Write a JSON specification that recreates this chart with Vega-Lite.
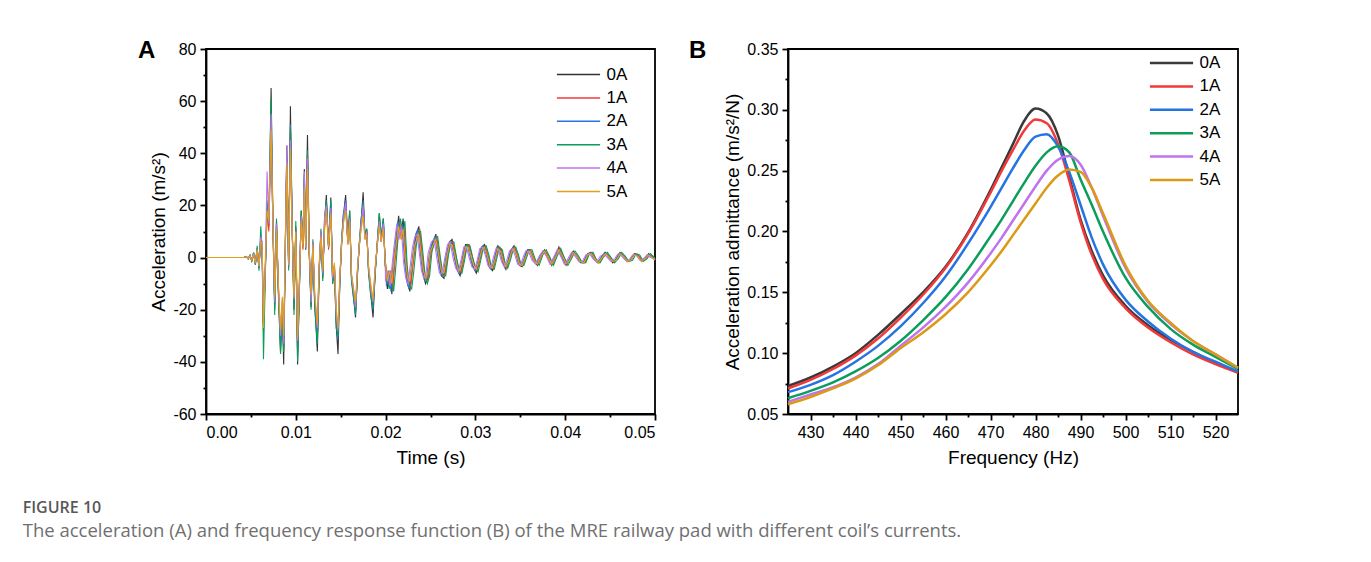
{
"$schema": "https://vega.github.io/schema/vega-lite/v6.json",
"background": "white",
"padding": {"left": 22, "top": 38, "right": 5, "bottom": 5},
"title": {"text": "FIGURE 10", "subtitle": "The acceleration (A) and frequency response function (B) of the MRE railway pad with different coil’s currents.", "orient": "bottom", "anchor": "start", "frame": "bounds", "offset": 32, "dx": -114.4, "font": "Open Sans", "fontSize": 16, "fontWeight": 600, "color": "#585858", "subtitleFont": "Open Sans", "subtitleFontSize": 18.5, "subtitleColor": "#707070", "subtitlePadding": 6.5},
"spacing": 29,
"resolve": {"scale": {"color": "independent"}},
"datasets": {
"a0": [{"t":0,"a":0},{"t":0.0042,"a":0},{"t":0.0045,"a":0.4},{"t":0.0047,"a":-0.5},{"t":0.0049,"a":0.8},{"t":0.0051,"a":-1.2},{"t":0.0053,"a":1.8},{"t":0.0055,"a":-2.5},{"t":0.0057,"a":3.5},{"t":0.0059,"a":-4},
{"t":0.0061,"a":8},{"t":0.00625,"a":4},{"t":0.0064,"a":-28},{"t":0.0066,"a":-6},{"t":0.0068,"a":20},{"t":0.007,"a":12},{"t":0.00725,"a":65},{"t":0.00745,"a":15},{"t":0.00765,"a":-20},{"t":0.00785,"a":14},
{"t":0.00805,"a":-12},{"t":0.0083,"a":-36},{"t":0.0085,"a":-20},{"t":0.00865,"a":-41},{"t":0.00885,"a":8},{"t":0.009,"a":43},{"t":0.0092,"a":-4},{"t":0.0094,"a":58},{"t":0.0096,"a":12},{"t":0.0098,"a":-20},
{"t":0.01,"a":12},{"t":0.0102,"a":-41},{"t":0.0104,"a":-12},{"t":0.0106,"a":18},{"t":0.0108,"a":4},{"t":0.01095,"a":34},{"t":0.0111,"a":4},{"t":0.0113,"a":47},{"t":0.0115,"a":2},{"t":0.0117,"a":-19},
{"t":0.0119,"a":6},{"t":0.0121,"a":-17},{"t":0.0124,"a":-36},{"t":0.0126,"a":-5},{"t":0.0128,"a":10},{"t":0.013,"a":-8},{"t":0.0132,"a":13},{"t":0.0134,"a":24},{"t":0.01365,"a":4},{"t":0.0139,"a":23},
{"t":0.0141,"a":-10},{"t":0.0143,"a":-4},{"t":0.0145,"a":-26},{"t":0.0147,"a":-37},{"t":0.0149,"a":-10},{"t":0.0151,"a":6},{"t":0.0153,"a":16},{"t":0.01555,"a":24},{"t":0.0158,"a":6},{"t":0.016,"a":18},
{"t":0.0162,"a":-8},{"t":0.0164,"a":-14},{"t":0.01665,"a":-23},{"t":0.01685,"a":-7},{"t":0.01705,"a":4},{"t":0.01725,"a":13},{"t":0.0175,"a":25},{"t":0.0177,"a":8},{"t":0.0179,"a":11},{"t":0.0181,"a":-5},
{"t":0.01835,"a":-14},{"t":0.0186,"a":-23},{"t":0.01885,"a":-5},{"t":0.01905,"a":4},{"t":0.0193,"a":17},{"t":0.0195,"a":7},{"t":0.01975,"a":15},{"t":0.01995,"a":-2},{"t":0.0202,"a":-12},{"t":0.02045,"a":-6},
{"t":0.0207,"a":-14},{"t":0.02095,"a":-2},{"t":0.0212,"a":7},{"t":0.02145,"a":16},{"t":0.0217,"a":8},{"t":0.02195,"a":15},{"t":0.0222,"a":-2},{"t":0.02245,"a":-10},{"t":0.0227,"a":-13},{"t":0.02295,"a":-4},
{"t":0.0232,"a":4},{"t":0.02345,"a":9},{"t":0.0237,"a":12},{"t":0.02395,"a":2},{"t":0.0242,"a":-6},{"t":0.02445,"a":-10},{"t":0.0247,"a":-8},{"t":0.02495,"a":2},{"t":0.0253,"a":6},{"t":0.0256,"a":9},
{"t":0.0259,"a":0},{"t":0.0262,"a":-7},{"t":0.0265,"a":-8},{"t":0.0268,"a":0},{"t":0.0271,"a":6},{"t":0.0274,"a":7},{"t":0.0277,"a":0},{"t":0.028,"a":-5},{"t":0.0283,"a":-7},{"t":0.0286,"a":-1},
{"t":0.0289,"a":5},{"t":0.0292,"a":5},{"t":0.0295,"a":0},{"t":0.0298,"a":-4},{"t":0.0301,"a":-6},{"t":0.0304,"a":-1},{"t":0.0307,"a":4},{"t":0.031,"a":5},{"t":0.0313,"a":1},{"t":0.0316,"a":-4},
{"t":0.0319,"a":-5},{"t":0.0322,"a":0},{"t":0.0325,"a":4.5},{"t":0.0328,"a":3},{"t":0.0331,"a":-2},{"t":0.0334,"a":-4.5},{"t":0.0337,"a":-1},{"t":0.034,"a":3},{"t":0.0343,"a":4.5},{"t":0.0346,"a":1},
{"t":0.0349,"a":-3},{"t":0.0352,"a":-3.5},{"t":0.0355,"a":0},{"t":0.0358,"a":3},{"t":0.0361,"a":3},{"t":0.0365,"a":-1},{"t":0.0369,"a":-3},{"t":0.0373,"a":1},{"t":0.0377,"a":3},{"t":0.0381,"a":0},
{"t":0.0385,"a":-3},{"t":0.0389,"a":0.5},{"t":0.0393,"a":4},{"t":0.0397,"a":0},{"t":0.0401,"a":-3},{"t":0.0405,"a":-0.5},{"t":0.0409,"a":2.5},{"t":0.0413,"a":0.5},{"t":0.0417,"a":-2},{"t":0.0421,"a":-2},
{"t":0.0425,"a":1.5},{"t":0.0429,"a":2},{"t":0.0433,"a":-1},{"t":0.0437,"a":-2},{"t":0.0441,"a":0.5},{"t":0.0445,"a":2},{"t":0.0449,"a":0},{"t":0.0453,"a":-2},{"t":0.0457,"a":-0.5},{"t":0.0461,"a":2},
{"t":0.0465,"a":0.5},{"t":0.0469,"a":-1.5},{"t":0.0473,"a":-1},{"t":0.0477,"a":1.5},{"t":0.0481,"a":1},{"t":0.0485,"a":-1.5},{"t":0.0489,"a":-0.5},{"t":0.0493,"a":1.5},{"t":0.0497,"a":0},{"t":0.05,"a":-1}],
"a1": [{"t":0,"a":0},{"t":0.0042,"a":0},{"t":0.0045,"a":0.3},{"t":0.0047,"a":-0.4},{"t":0.0049,"a":0.7},{"t":0.0051,"a":-1},{"t":0.0053,"a":1.5},{"t":0.0055,"a":-2.2},{"t":0.0057,"a":3},{"t":0.0059,"a":-3.5},
{"t":0.0061,"a":7},{"t":0.00625,"a":3},{"t":0.0064,"a":-25},{"t":0.0066,"a":-5},{"t":0.0068,"a":18},{"t":0.007,"a":10},{"t":0.00725,"a":50},{"t":0.00745,"a":14},{"t":0.00765,"a":-17},{"t":0.00785,"a":12},
{"t":0.00805,"a":-10},{"t":0.0083,"a":-32},{"t":0.0085,"a":-17},{"t":0.00865,"a":-36},{"t":0.00885,"a":6},{"t":0.009,"a":38},{"t":0.0092,"a":-3},{"t":0.0094,"a":50},{"t":0.0096,"a":10},{"t":0.0098,"a":-18},
{"t":0.01,"a":10},{"t":0.0102,"a":-36},{"t":0.0104,"a":-10},{"t":0.0106,"a":15},{"t":0.0108,"a":3},{"t":0.01095,"a":30},{"t":0.0111,"a":3},{"t":0.0113,"a":40},{"t":0.0115,"a":1},{"t":0.0117,"a":-17},
{"t":0.0119,"a":5},{"t":0.0121,"a":-15},{"t":0.0124,"a":-30},{"t":0.0126,"a":-4},{"t":0.0128,"a":9},{"t":0.013,"a":-6},{"t":0.0132,"a":11},{"t":0.0134,"a":21},{"t":0.01365,"a":3},{"t":0.0139,"a":20},
{"t":0.0141,"a":-8},{"t":0.0143,"a":-3},{"t":0.0145,"a":-22},{"t":0.0147,"a":-29},{"t":0.0149,"a":-8},{"t":0.0151,"a":5},{"t":0.0153,"a":14},{"t":0.01555,"a":21},{"t":0.0158,"a":5},{"t":0.016,"a":15},
{"t":0.0162,"a":-7},{"t":0.0164,"a":-12},{"t":0.01665,"a":-20},{"t":0.01685,"a":-6},{"t":0.01705,"a":3},{"t":0.01725,"a":12},{"t":0.0175,"a":21},{"t":0.0177,"a":7},{"t":0.0179,"a":10},{"t":0.0181,"a":-4},
{"t":0.01835,"a":-12},{"t":0.0186,"a":-19},{"t":0.01885,"a":-4},{"t":0.01905,"a":4},{"t":0.0193,"a":15},{"t":0.0195,"a":6},{"t":0.01975,"a":13},{"t":0.01995,"a":-1},{"t":0.0203,"a":-10},{"t":0.02055,"a":-5},
{"t":0.0208,"a":-12},{"t":0.02105,"a":-1},{"t":0.0213,"a":6},{"t":0.02155,"a":14},{"t":0.0218,"a":7},{"t":0.02205,"a":12},{"t":0.0223,"a":-1},{"t":0.02255,"a":-9},{"t":0.0228,"a":-11},{"t":0.02305,"a":-3},
{"t":0.0233,"a":4},{"t":0.02355,"a":8},{"t":0.0238,"a":11},{"t":0.02405,"a":2},{"t":0.0243,"a":-5},{"t":0.02455,"a":-9},{"t":0.0248,"a":-7},{"t":0.02505,"a":2},{"t":0.0254,"a":5},{"t":0.0257,"a":8},
{"t":0.026,"a":1},{"t":0.0263,"a":-6},{"t":0.0266,"a":-7},{"t":0.0269,"a":0},{"t":0.0272,"a":5},{"t":0.0275,"a":6},{"t":0.0278,"a":1},{"t":0.0281,"a":-4},{"t":0.0284,"a":-6},{"t":0.0287,"a":-1},
{"t":0.029,"a":4},{"t":0.0293,"a":5},{"t":0.0296,"a":1},{"t":0.0299,"a":-3},{"t":0.0302,"a":-5},{"t":0.0305,"a":-1},{"t":0.0308,"a":3.5},{"t":0.0311,"a":4.5},{"t":0.0314,"a":1},{"t":0.0317,"a":-3},
{"t":0.032,"a":-4.5},{"t":0.0323,"a":0},{"t":0.0326,"a":4},{"t":0.0329,"a":3},{"t":0.0332,"a":-1.5},{"t":0.0335,"a":-4},{"t":0.0338,"a":-1},{"t":0.0341,"a":2.5},{"t":0.0344,"a":4},{"t":0.0347,"a":1},
{"t":0.035,"a":-2.5},{"t":0.0353,"a":-3},{"t":0.0356,"a":0},{"t":0.0359,"a":2.5},{"t":0.0362,"a":2.5},{"t":0.0366,"a":-1},{"t":0.037,"a":-2.5},{"t":0.0374,"a":1},{"t":0.0378,"a":2.5},{"t":0.0382,"a":0.5},
{"t":0.0386,"a":-2.5},{"t":0.039,"a":0.5},{"t":0.0394,"a":3.5},{"t":0.0398,"a":0.5},{"t":0.0402,"a":-2.5},{"t":0.0406,"a":-0.5},{"t":0.041,"a":2},{"t":0.0414,"a":0.5},{"t":0.0418,"a":-1.5},{"t":0.0422,"a":-2},
{"t":0.0426,"a":1},{"t":0.043,"a":2},{"t":0.0434,"a":-0.5},{"t":0.0438,"a":-2},{"t":0.0442,"a":0},{"t":0.0446,"a":1.5},{"t":0.045,"a":0.5},{"t":0.0454,"a":-1.5},{"t":0.0458,"a":-0.5},{"t":0.0462,"a":1.5},
{"t":0.0466,"a":0.5},{"t":0.047,"a":-1.5},{"t":0.0474,"a":-0.5},{"t":0.0478,"a":1.5},{"t":0.0482,"a":0.5},{"t":0.0486,"a":-1},{"t":0.049,"a":-0.5},{"t":0.0494,"a":1},{"t":0.0498,"a":0.5},{"t":0.05,"a":-0.5}],
"a2": [{"t":0,"a":0},{"t":0.0042,"a":0},{"t":0.0045,"a":0.3},{"t":0.0047,"a":-0.5},{"t":0.0049,"a":0.7},{"t":0.0051,"a":-1.1},{"t":0.0053,"a":1.6},{"t":0.0055,"a":-2.3},{"t":0.0057,"a":3.2},{"t":0.0059,"a":-3.8},
{"t":0.0061,"a":7},{"t":0.00625,"a":2},{"t":0.0064,"a":-26},{"t":0.0066,"a":-4},{"t":0.0068,"a":17},{"t":0.007,"a":14},{"t":0.00725,"a":52},{"t":0.00745,"a":12},{"t":0.00765,"a":-18},{"t":0.00785,"a":13},
{"t":0.00805,"a":-11},{"t":0.0083,"a":-33},{"t":0.0085,"a":-18},{"t":0.00865,"a":-35},{"t":0.00885,"a":7},{"t":0.009,"a":38},{"t":0.0092,"a":-2},{"t":0.0094,"a":51},{"t":0.0096,"a":11},{"t":0.0098,"a":-17},
{"t":0.01,"a":11},{"t":0.0102,"a":-37},{"t":0.0104,"a":-11},{"t":0.0106,"a":16},{"t":0.0108,"a":5},{"t":0.01095,"a":31},{"t":0.0111,"a":3},{"t":0.0113,"a":36},{"t":0.0115,"a":3},{"t":0.0117,"a":-18},
{"t":0.0119,"a":5},{"t":0.0121,"a":-16},{"t":0.0124,"a":-31},{"t":0.0126,"a":-5},{"t":0.0128,"a":8},{"t":0.013,"a":-7},{"t":0.0132,"a":12},{"t":0.0134,"a":22},{"t":0.01365,"a":4},{"t":0.0139,"a":21},
{"t":0.0141,"a":-9},{"t":0.0143,"a":-3},{"t":0.0145,"a":-24},{"t":0.0147,"a":-31},{"t":0.0149,"a":-9},{"t":0.0151,"a":5},{"t":0.0153,"a":15},{"t":0.01555,"a":22},{"t":0.0158,"a":6},{"t":0.016,"a":16},
{"t":0.0162,"a":-7},{"t":0.0164,"a":-13},{"t":0.01665,"a":-22},{"t":0.01685,"a":-6},{"t":0.01705,"a":4},{"t":0.01725,"a":11},{"t":0.0175,"a":22},{"t":0.0177,"a":8},{"t":0.0179,"a":10},{"t":0.0181,"a":-4},
{"t":0.01835,"a":-13},{"t":0.0186,"a":-20},{"t":0.01885,"a":-5},{"t":0.01905,"a":4},{"t":0.0193,"a":13},{"t":0.0195,"a":7},{"t":0.01975,"a":14},{"t":0.01995,"a":-1},{"t":0.0201,"a":-11},{"t":0.02035,"a":-5},
{"t":0.0206,"a":-13},{"t":0.02085,"a":-1},{"t":0.0211,"a":6},{"t":0.02135,"a":14},{"t":0.0216,"a":8},{"t":0.02185,"a":13},{"t":0.0221,"a":-1},{"t":0.02235,"a":-9},{"t":0.0226,"a":-12},{"t":0.02285,"a":-4},
{"t":0.0231,"a":3},{"t":0.02335,"a":9},{"t":0.0236,"a":11},{"t":0.02385,"a":2},{"t":0.0241,"a":-5},{"t":0.02435,"a":-9},{"t":0.0246,"a":-7},{"t":0.02485,"a":1},{"t":0.0252,"a":6},{"t":0.0255,"a":8},
{"t":0.0258,"a":1},{"t":0.0261,"a":-6},{"t":0.0264,"a":-7},{"t":0.0267,"a":0},{"t":0.027,"a":5},{"t":0.0273,"a":6},{"t":0.0276,"a":1},{"t":0.0279,"a":-4},{"t":0.0282,"a":-6},{"t":0.0285,"a":-1},
{"t":0.0288,"a":4},{"t":0.0291,"a":5},{"t":0.0294,"a":0.5},{"t":0.0297,"a":-3.5},{"t":0.03,"a":-5},{"t":0.0303,"a":-1},{"t":0.0306,"a":3.5},{"t":0.0309,"a":4.5},{"t":0.0312,"a":1},{"t":0.0315,"a":-3.5},
{"t":0.0318,"a":-4.5},{"t":0.0321,"a":-0.5},{"t":0.0324,"a":4},{"t":0.0327,"a":3},{"t":0.033,"a":-1.5},{"t":0.0333,"a":-4},{"t":0.0336,"a":-1.5},{"t":0.0339,"a":2.5},{"t":0.0342,"a":4},{"t":0.0345,"a":1.5},
{"t":0.0348,"a":-2.5},{"t":0.0351,"a":-3},{"t":0.0354,"a":-0.5},{"t":0.0357,"a":2.5},{"t":0.036,"a":3},{"t":0.0364,"a":-0.5},{"t":0.0368,"a":-2.5},{"t":0.0372,"a":0.5},{"t":0.0376,"a":2.5},{"t":0.038,"a":0.5},
{"t":0.0384,"a":-2.5},{"t":0.0388,"a":0},{"t":0.0392,"a":3},{"t":0.0396,"a":0.5},{"t":0.04,"a":-2.5},{"t":0.0404,"a":-1},{"t":0.0408,"a":2},{"t":0.0412,"a":1},{"t":0.0416,"a":-1.5},{"t":0.042,"a":-2},
{"t":0.0424,"a":1},{"t":0.0428,"a":2},{"t":0.0432,"a":-0.5},{"t":0.0436,"a":-2},{"t":0.044,"a":0},{"t":0.0444,"a":2},{"t":0.0448,"a":0.5},{"t":0.0452,"a":-1.5},{"t":0.0456,"a":-1},{"t":0.046,"a":1.5},
{"t":0.0464,"a":1},{"t":0.0468,"a":-1},{"t":0.0472,"a":-1},{"t":0.0476,"a":1},{"t":0.048,"a":1},{"t":0.0484,"a":-1},{"t":0.0488,"a":-1},{"t":0.0492,"a":1},{"t":0.0496,"a":0.5},{"t":0.05,"a":-0.5}],
"a3": [{"t":0,"a":0},{"t":0.0042,"a":0},{"t":0.0045,"a":0.3},{"t":0.0047,"a":-0.5},{"t":0.0049,"a":0.9},{"t":0.0051,"a":-1.3},{"t":0.0053,"a":2},{"t":0.0055,"a":-2.8},{"t":0.0057,"a":4.5},{"t":0.0059,"a":-5},
{"t":0.0061,"a":12},{"t":0.00625,"a":3},{"t":0.0064,"a":-39},{"t":0.0066,"a":-8},{"t":0.0068,"a":22},{"t":0.007,"a":14},{"t":0.00725,"a":61},{"t":0.00745,"a":13},{"t":0.00765,"a":-22},{"t":0.00785,"a":15},
{"t":0.00805,"a":-13},{"t":0.0083,"a":-37},{"t":0.0085,"a":-22},{"t":0.00865,"a":-36},{"t":0.00885,"a":9},{"t":0.009,"a":40},{"t":0.0092,"a":-5},{"t":0.0094,"a":50},{"t":0.0096,"a":12},{"t":0.0098,"a":-22},
{"t":0.01,"a":14},{"t":0.0102,"a":-40},{"t":0.0104,"a":-13},{"t":0.0106,"a":18},{"t":0.0108,"a":6},{"t":0.01095,"a":32},{"t":0.0111,"a":4},{"t":0.0113,"a":41},{"t":0.0115,"a":2},{"t":0.0117,"a":-20},
{"t":0.0119,"a":7},{"t":0.0121,"a":-19},{"t":0.0124,"a":-33},{"t":0.0126,"a":-6},{"t":0.0128,"a":11},{"t":0.013,"a":-9},{"t":0.0132,"a":15},{"t":0.0134,"a":22},{"t":0.01365,"a":4},{"t":0.0139,"a":22},
{"t":0.0141,"a":-10},{"t":0.0143,"a":-4},{"t":0.0145,"a":-27},{"t":0.0147,"a":-30},{"t":0.0149,"a":-10},{"t":0.0151,"a":7},{"t":0.0153,"a":17},{"t":0.01555,"a":19},{"t":0.0158,"a":6},{"t":0.016,"a":18},
{"t":0.0162,"a":-9},{"t":0.0164,"a":-15},{"t":0.01665,"a":-21},{"t":0.01685,"a":-8},{"t":0.01705,"a":5},{"t":0.01725,"a":14},{"t":0.0175,"a":21},{"t":0.0177,"a":9},{"t":0.0179,"a":11},{"t":0.0181,"a":-6},
{"t":0.01835,"a":-15},{"t":0.0186,"a":-19},{"t":0.01885,"a":-6},{"t":0.01905,"a":5},{"t":0.0193,"a":17},{"t":0.0195,"a":8},{"t":0.01975,"a":15},{"t":0.01995,"a":-3},{"t":0.0204,"a":-12},{"t":0.02065,"a":-7},
{"t":0.0209,"a":-13},{"t":0.02115,"a":-3},{"t":0.0214,"a":8},{"t":0.02165,"a":15},{"t":0.0219,"a":9},{"t":0.02215,"a":14},{"t":0.0224,"a":-3},{"t":0.02265,"a":-11},{"t":0.0229,"a":-12},{"t":0.02315,"a":-5},
{"t":0.0234,"a":4},{"t":0.02365,"a":10},{"t":0.0239,"a":10},{"t":0.02415,"a":2},{"t":0.0244,"a":-7},{"t":0.02465,"a":-10},{"t":0.0249,"a":-7},{"t":0.02515,"a":2},{"t":0.0255,"a":7},{"t":0.0258,"a":8},
{"t":0.0261,"a":0},{"t":0.0264,"a":-7},{"t":0.0267,"a":-7},{"t":0.027,"a":1},{"t":0.0273,"a":6},{"t":0.0276,"a":6},{"t":0.0279,"a":0},{"t":0.0282,"a":-5},{"t":0.0285,"a":-6},{"t":0.0288,"a":-1},
{"t":0.0291,"a":5},{"t":0.0294,"a":4.5},{"t":0.0297,"a":0},{"t":0.03,"a":-4},{"t":0.0303,"a":-5.5},{"t":0.0306,"a":-1},{"t":0.0309,"a":4},{"t":0.0312,"a":4.5},{"t":0.0315,"a":1},{"t":0.0318,"a":-4},
{"t":0.0321,"a":-4.5},{"t":0.0324,"a":0},{"t":0.0327,"a":4},{"t":0.033,"a":3},{"t":0.0333,"a":-2},{"t":0.0336,"a":-4},{"t":0.0339,"a":-1},{"t":0.0342,"a":3},{"t":0.0345,"a":4},{"t":0.0348,"a":1},
{"t":0.0351,"a":-3},{"t":0.0354,"a":-3},{"t":0.0357,"a":0},{"t":0.036,"a":3},{"t":0.0363,"a":3},{"t":0.0367,"a":-1},{"t":0.0371,"a":-3},{"t":0.0375,"a":1},{"t":0.0379,"a":3},{"t":0.0383,"a":0},
{"t":0.0387,"a":-3},{"t":0.0391,"a":0.5},{"t":0.0395,"a":3.5},{"t":0.0399,"a":0},{"t":0.0403,"a":-3},{"t":0.0407,"a":-0.5},{"t":0.0411,"a":2.5},{"t":0.0415,"a":0.5},{"t":0.0419,"a":-2},{"t":0.0423,"a":-2},
{"t":0.0427,"a":1.5},{"t":0.0431,"a":2},{"t":0.0435,"a":-1},{"t":0.0439,"a":-2},{"t":0.0443,"a":0.5},{"t":0.0447,"a":2},{"t":0.0451,"a":0},{"t":0.0455,"a":-2},{"t":0.0459,"a":-0.5},{"t":0.0463,"a":2},
{"t":0.0467,"a":0.5},{"t":0.0471,"a":-1.5},{"t":0.0475,"a":-1},{"t":0.0479,"a":1.5},{"t":0.0483,"a":1},{"t":0.0487,"a":-1.5},{"t":0.0491,"a":-0.5},{"t":0.0495,"a":1.5},{"t":0.0499,"a":0},{"t":0.05,"a":-1}],
"a4": [{"t":0,"a":0},{"t":0.0042,"a":0},{"t":0.0045,"a":0.3},{"t":0.0047,"a":-0.4},{"t":0.0049,"a":0.7},{"t":0.0051,"a":-1},{"t":0.0053,"a":1.6},{"t":0.0055,"a":-2.2},{"t":0.0057,"a":3.2},{"t":0.0059,"a":-3.5},
{"t":0.0061,"a":8},{"t":0.00625,"a":6},{"t":0.0064,"a":-24},{"t":0.0066,"a":-3},{"t":0.0068,"a":33},{"t":0.007,"a":13},{"t":0.00725,"a":55},{"t":0.00745,"a":12},{"t":0.00765,"a":-17},{"t":0.00785,"a":13},
{"t":0.00805,"a":-10},{"t":0.0083,"a":-30},{"t":0.0085,"a":-16},{"t":0.00865,"a":-33},{"t":0.00885,"a":9},{"t":0.009,"a":43},{"t":0.0092,"a":-3},{"t":0.0094,"a":45},{"t":0.0096,"a":10},{"t":0.0098,"a":-16},
{"t":0.01,"a":10},{"t":0.0102,"a":-32},{"t":0.0104,"a":-10},{"t":0.0106,"a":16},{"t":0.0108,"a":5},{"t":0.01095,"a":33},{"t":0.0111,"a":4},{"t":0.0113,"a":38},{"t":0.0115,"a":2},{"t":0.0117,"a":-17},
{"t":0.0119,"a":6},{"t":0.0121,"a":-14},{"t":0.0124,"a":-27},{"t":0.0126,"a":-3},{"t":0.0128,"a":10},{"t":0.013,"a":-6},{"t":0.0132,"a":15},{"t":0.0134,"a":20},{"t":0.01365,"a":5},{"t":0.0139,"a":19},
{"t":0.0141,"a":-8},{"t":0.0143,"a":-3},{"t":0.0145,"a":-22},{"t":0.0147,"a":-28},{"t":0.0149,"a":-8},{"t":0.0151,"a":6},{"t":0.0153,"a":15},{"t":0.01555,"a":21},{"t":0.0158,"a":6},{"t":0.016,"a":15},
{"t":0.0162,"a":-7},{"t":0.0164,"a":-12},{"t":0.01665,"a":-19},{"t":0.01685,"a":-6},{"t":0.01705,"a":4},{"t":0.01725,"a":12},{"t":0.0175,"a":20},{"t":0.0177,"a":7},{"t":0.0179,"a":10},{"t":0.0181,"a":-4},
{"t":0.01835,"a":-12},{"t":0.0186,"a":-17},{"t":0.01885,"a":-4},{"t":0.01905,"a":4},{"t":0.0193,"a":14},{"t":0.0195,"a":6},{"t":0.01975,"a":13},{"t":0.01995,"a":-2},{"t":0.02,"a":-9},{"t":0.02025,"a":-5},
{"t":0.0205,"a":-11},{"t":0.02075,"a":-2},{"t":0.021,"a":6},{"t":0.02125,"a":13},{"t":0.0215,"a":7},{"t":0.02175,"a":12},{"t":0.022,"a":-2},{"t":0.02225,"a":-8},{"t":0.0225,"a":-10},{"t":0.02275,"a":-3},
{"t":0.023,"a":4},{"t":0.02325,"a":8},{"t":0.0235,"a":9},{"t":0.02375,"a":2},{"t":0.024,"a":-5},{"t":0.02425,"a":-8},{"t":0.0245,"a":-6},{"t":0.02475,"a":2},{"t":0.0251,"a":6},{"t":0.0254,"a":7},
{"t":0.0257,"a":0},{"t":0.026,"a":-6},{"t":0.0263,"a":-6},{"t":0.0266,"a":0},{"t":0.0269,"a":5},{"t":0.0272,"a":6},{"t":0.0275,"a":0},{"t":0.0278,"a":-4},{"t":0.0281,"a":-5.5},{"t":0.0284,"a":-1},
{"t":0.0287,"a":4},{"t":0.029,"a":4},{"t":0.0293,"a":0},{"t":0.0296,"a":-3.5},{"t":0.0299,"a":-4.5},{"t":0.0302,"a":-1},{"t":0.0305,"a":3.5},{"t":0.0308,"a":4},{"t":0.0311,"a":1},{"t":0.0314,"a":-3},
{"t":0.0317,"a":-4},{"t":0.032,"a":0},{"t":0.0323,"a":3.5},{"t":0.0326,"a":2.5},{"t":0.0329,"a":-1.5},{"t":0.0332,"a":-3.5},{"t":0.0335,"a":-1},{"t":0.0338,"a":2.5},{"t":0.0341,"a":3.5},{"t":0.0344,"a":1},
{"t":0.0347,"a":-2.5},{"t":0.035,"a":-3},{"t":0.0353,"a":0},{"t":0.0356,"a":2.5},{"t":0.0359,"a":2.5},{"t":0.0363,"a":-1},{"t":0.0367,"a":-2.5},{"t":0.0371,"a":0.5},{"t":0.0375,"a":2.5},{"t":0.0379,"a":0.5},
{"t":0.0383,"a":-2.5},{"t":0.0387,"a":0},{"t":0.0391,"a":3},{"t":0.0395,"a":0.5},{"t":0.0399,"a":-2.5},{"t":0.0403,"a":-0.5},{"t":0.0407,"a":2},{"t":0.0411,"a":0.5},{"t":0.0415,"a":-1.5},{"t":0.0419,"a":-1.5},
{"t":0.0423,"a":1},{"t":0.0427,"a":1.5},{"t":0.0431,"a":-0.5},{"t":0.0435,"a":-1.5},{"t":0.0439,"a":0.5},{"t":0.0443,"a":1.5},{"t":0.0447,"a":0},{"t":0.0451,"a":-1.5},{"t":0.0455,"a":-0.5},{"t":0.0459,"a":1.5},
{"t":0.0463,"a":0.5},{"t":0.0467,"a":-1},{"t":0.0471,"a":-1},{"t":0.0475,"a":1},{"t":0.0479,"a":1},{"t":0.0483,"a":-1},{"t":0.0487,"a":-0.5},{"t":0.0491,"a":1},{"t":0.0495,"a":0},{"t":0.05,"a":-0.5}],
"a5": [{"t":0,"a":0},{"t":0.0042,"a":0},{"t":0.0045,"a":0.3},{"t":0.0047,"a":-0.4},{"t":0.0049,"a":0.6},{"t":0.0051,"a":-0.9},{"t":0.0053,"a":1.4},{"t":0.0055,"a":-2},{"t":0.0057,"a":3},{"t":0.0059,"a":-3.2},
{"t":0.0061,"a":6},{"t":0.00625,"a":5},{"t":0.0064,"a":-27},{"t":0.0066,"a":-4},{"t":0.0068,"a":18},{"t":0.007,"a":14},{"t":0.00725,"a":49},{"t":0.00745,"a":14},{"t":0.00765,"a":-15},{"t":0.00785,"a":11},
{"t":0.00805,"a":-9},{"t":0.0083,"a":-28},{"t":0.0085,"a":-15},{"t":0.00865,"a":-30},{"t":0.00885,"a":8},{"t":0.009,"a":36},{"t":0.0092,"a":-2},{"t":0.0094,"a":42},{"t":0.0096,"a":10},{"t":0.0098,"a":-15},
{"t":0.01,"a":10},{"t":0.0102,"a":-31},{"t":0.0104,"a":-9},{"t":0.0106,"a":14},{"t":0.0108,"a":4},{"t":0.01095,"a":27},{"t":0.0111,"a":4},{"t":0.0113,"a":34},{"t":0.0115,"a":3},{"t":0.0117,"a":-14},
{"t":0.0119,"a":5},{"t":0.0121,"a":-13},{"t":0.0124,"a":-26},{"t":0.0126,"a":-3},{"t":0.0128,"a":8},{"t":0.013,"a":-5},{"t":0.0132,"a":11},{"t":0.0134,"a":18},{"t":0.01365,"a":4},{"t":0.0139,"a":17},
{"t":0.0141,"a":-7},{"t":0.0143,"a":-2},{"t":0.0145,"a":-19},{"t":0.0147,"a":-27},{"t":0.0149,"a":-7},{"t":0.0151,"a":5},{"t":0.0153,"a":13},{"t":0.01555,"a":18},{"t":0.0158,"a":5},{"t":0.016,"a":14},
{"t":0.0162,"a":-6},{"t":0.0164,"a":-11},{"t":0.01665,"a":-17},{"t":0.01685,"a":-5},{"t":0.01705,"a":4},{"t":0.01725,"a":10},{"t":0.0175,"a":16},{"t":0.0177,"a":7},{"t":0.0179,"a":9},{"t":0.0181,"a":-3},
{"t":0.01835,"a":-10},{"t":0.0186,"a":-16},{"t":0.01885,"a":-3},{"t":0.01905,"a":4},{"t":0.0193,"a":12},{"t":0.0195,"a":6},{"t":0.01975,"a":11},{"t":0.01995,"a":-1},{"t":0.0202,"a":-9},{"t":0.02045,"a":-5},
{"t":0.0207,"a":-10},{"t":0.02095,"a":-1},{"t":0.0212,"a":6},{"t":0.02145,"a":12},{"t":0.0217,"a":7},{"t":0.02195,"a":11},{"t":0.0222,"a":-1},{"t":0.02245,"a":-8},{"t":0.0227,"a":-9},{"t":0.02295,"a":-3},
{"t":0.0232,"a":4},{"t":0.02345,"a":7},{"t":0.0237,"a":9},{"t":0.02395,"a":2},{"t":0.0242,"a":-5},{"t":0.02445,"a":-8},{"t":0.0247,"a":-6},{"t":0.02495,"a":2},{"t":0.0253,"a":5},{"t":0.0256,"a":7},
{"t":0.0259,"a":1},{"t":0.0262,"a":-5},{"t":0.0265,"a":-6},{"t":0.0268,"a":0},{"t":0.0271,"a":5},{"t":0.0274,"a":5},{"t":0.0277,"a":1},{"t":0.028,"a":-4},{"t":0.0283,"a":-5},{"t":0.0286,"a":-1},
{"t":0.0289,"a":4},{"t":0.0292,"a":4},{"t":0.0295,"a":0.5},{"t":0.0298,"a":-3},{"t":0.0301,"a":-4.5},{"t":0.0304,"a":-1},{"t":0.0307,"a":3},{"t":0.031,"a":4},{"t":0.0313,"a":1},{"t":0.0316,"a":-3},
{"t":0.0319,"a":-4},{"t":0.0322,"a":-0.5},{"t":0.0325,"a":3.5},{"t":0.0328,"a":2.5},{"t":0.0331,"a":-1.5},{"t":0.0334,"a":-3.5},{"t":0.0337,"a":-1.5},{"t":0.034,"a":2},{"t":0.0343,"a":3.5},{"t":0.0346,"a":1},
{"t":0.0349,"a":-2.5},{"t":0.0352,"a":-3},{"t":0.0355,"a":-0.5},{"t":0.0358,"a":2},{"t":0.0361,"a":2.5},{"t":0.0365,"a":-1},{"t":0.0369,"a":-2.5},{"t":0.0373,"a":0.5},{"t":0.0377,"a":2.5},{"t":0.0381,"a":0},
{"t":0.0385,"a":-2.5},{"t":0.0389,"a":0},{"t":0.0393,"a":3},{"t":0.0397,"a":0.5},{"t":0.0401,"a":-2.5},{"t":0.0405,"a":-1},{"t":0.0409,"a":2},{"t":0.0413,"a":0.5},{"t":0.0417,"a":-1.5},{"t":0.0421,"a":-2},
{"t":0.0425,"a":1},{"t":0.0429,"a":1.5},{"t":0.0433,"a":-0.5},{"t":0.0437,"a":-2},{"t":0.0441,"a":0},{"t":0.0445,"a":1.5},{"t":0.0449,"a":0},{"t":0.0453,"a":-1.5},{"t":0.0457,"a":-1},{"t":0.0461,"a":1.5},
{"t":0.0465,"a":0.5},{"t":0.0469,"a":-1.5},{"t":0.0473,"a":-1},{"t":0.0477,"a":1},{"t":0.0481,"a":0.5},{"t":0.0485,"a":-1.5},{"t":0.0489,"a":-0.5},{"t":0.0493,"a":1},{"t":0.0497,"a":0},{"t":0.05,"a":-1}],
"f0": [{"f":425,"v":0.073},{"f":430,"v":0.080},{"f":435,"v":0.089},{"f":440,"v":0.100},{"f":445,"v":0.115},{"f":450,"v":0.132},{"f":455,"v":0.150},{"f":460,"v":0.171},{"f":465,"v":0.199},{"f":470,"v":0.234},{"f":472.5,"v":0.253},{"f":475,"v":0.272},{"f":477.5,"v":0.291},{"f":480,"v":0.301},{"f":482.5,"v":0.297},{"f":485,"v":0.279},{"f":487.5,"v":0.245},{"f":490,"v":0.210},{"f":492.5,"v":0.184},{"f":495,"v":0.164},{"f":500,"v":0.139},{"f":505,"v":0.123},{"f":510,"v":0.111},{"f":515,"v":0.101},{"f":520,"v":0.092},{"f":525,"v":0.084}],
"f1": [{"f":425,"v":0.071},{"f":430,"v":0.078},{"f":435,"v":0.087},{"f":440,"v":0.098},{"f":445,"v":0.112},{"f":450,"v":0.129},{"f":455,"v":0.148},{"f":460,"v":0.170},{"f":465,"v":0.198},{"f":470,"v":0.232},{"f":472.5,"v":0.250},{"f":475,"v":0.267},{"f":477.5,"v":0.283},{"f":480,"v":0.292},{"f":482.5,"v":0.289},{"f":485,"v":0.272},{"f":487.5,"v":0.242},{"f":490,"v":0.208},{"f":492.5,"v":0.181},{"f":495,"v":0.161},{"f":500,"v":0.137},{"f":505,"v":0.121},{"f":510,"v":0.109},{"f":515,"v":0.099},{"f":520,"v":0.091},{"f":525,"v":0.084}],
"f2": [{"f":425,"v":0.068},{"f":430,"v":0.074},{"f":435,"v":0.082},{"f":440,"v":0.093},{"f":445,"v":0.106},{"f":450,"v":0.122},{"f":455,"v":0.141},{"f":460,"v":0.163},{"f":465,"v":0.190},{"f":470,"v":0.220},{"f":472.5,"v":0.236},{"f":475,"v":0.252},{"f":477.5,"v":0.267},{"f":480,"v":0.278},{"f":482.5,"v":0.280},{"f":485,"v":0.270},{"f":487.5,"v":0.249},{"f":490,"v":0.222},{"f":492.5,"v":0.195},{"f":495,"v":0.173},{"f":500,"v":0.144},{"f":505,"v":0.126},{"f":510,"v":0.112},{"f":515,"v":0.101},{"f":520,"v":0.093},{"f":525,"v":0.085}],
"f3": [{"f":425,"v":0.063},{"f":430,"v":0.069},{"f":435,"v":0.076},{"f":440,"v":0.085},{"f":445,"v":0.096},{"f":450,"v":0.110},{"f":455,"v":0.127},{"f":460,"v":0.146},{"f":465,"v":0.169},{"f":470,"v":0.196},{"f":472.5,"v":0.210},{"f":475,"v":0.225},{"f":477.5,"v":0.240},{"f":480,"v":0.254},{"f":482.5,"v":0.265},{"f":485,"v":0.270},{"f":487.5,"v":0.265},{"f":490,"v":0.243},{"f":492.5,"v":0.222},{"f":495,"v":0.200},{"f":500,"v":0.162},{"f":505,"v":0.138},{"f":510,"v":0.120},{"f":515,"v":0.107},{"f":520,"v":0.097},{"f":525,"v":0.087}],
"f4": [{"f":425,"v":0.060},{"f":430,"v":0.066},{"f":435,"v":0.072},{"f":440,"v":0.080},{"f":445,"v":0.091},{"f":450,"v":0.106},{"f":455,"v":0.121},{"f":460,"v":0.138},{"f":465,"v":0.158},{"f":470,"v":0.182},{"f":472.5,"v":0.195},{"f":475,"v":0.209},{"f":477.5,"v":0.223},{"f":480,"v":0.237},{"f":482.5,"v":0.250},{"f":485,"v":0.259},{"f":487.5,"v":0.262},{"f":490,"v":0.255},{"f":492.5,"v":0.236},{"f":495,"v":0.213},{"f":500,"v":0.170},{"f":505,"v":0.142},{"f":510,"v":0.124},{"f":515,"v":0.110},{"f":520,"v":0.099},{"f":525,"v":0.088}],
"f5": [{"f":425,"v":0.058},{"f":430,"v":0.064},{"f":435,"v":0.071},{"f":440,"v":0.079},{"f":445,"v":0.090},{"f":450,"v":0.104},{"f":455,"v":0.117},{"f":460,"v":0.132},{"f":465,"v":0.150},{"f":470,"v":0.172},{"f":472.5,"v":0.184},{"f":475,"v":0.197},{"f":477.5,"v":0.210},{"f":480,"v":0.223},{"f":482.5,"v":0.236},{"f":485,"v":0.246},{"f":487.5,"v":0.251},{"f":490,"v":0.249},{"f":492.5,"v":0.236},{"f":495,"v":0.215},{"f":500,"v":0.172},{"f":505,"v":0.143},{"f":510,"v":0.125},{"f":515,"v":0.110},{"f":520,"v":0.099},{"f":525,"v":0.088}]
},
"hconcat": [
{
"width": 449, "height": 365,
"title": {"text": "A", "anchor": "start", "frame": "group", "orient": "top", "offset": 0, "dx": -68, "dy": 22, "font": "Liberation Sans", "fontSize": 24, "fontWeight": "bold", "color": "black"},
"resolve": {"axis": {"x": "independent", "y": "independent"}},
"layer": [
{"data": {"name": "a0"}, "mark": {"type": "line", "strokeWidth": 1.1},
 "encoding": {
  "x": {"field": "t", "type": "quantitative", "scale": {"domain": [0, 0.05], "nice": false, "zero": false}, "axis": {"orient": "bottom", "values": [0.005, 0.015, 0.025, 0.035, 0.045], "labels": false, "domain": false, "tickSize": 3, "title": null}},
  "y": {"field": "a", "type": "quantitative", "scale": {"domain": [-60, 80], "nice": false}, "axis": {"orient": "left", "values": [-50, -30, -10, 10, 30, 50, 70], "labels": false, "domain": false, "tickSize": 3, "title": null}},
  "color": {"datum": "0A", "type": "nominal", "scale": {"domain": ["0A", "1A", "2A", "3A", "4A", "5A"], "range": ["#333333", "#f23838", "#2474e2", "#0a9e5a", "#c073ee", "#e4a01a"]}, "legend": {"orient": "none", "legendX": 364, "legendY": 17, "title": null, "symbolType": "M-3.6,0H3.6", "symbolSize": 144, "symbolStrokeWidth": 1.5, "labelFontSize": 17, "labelFont": "Liberation Sans", "labelColor": "black", "labelOffset": 19.5, "rowPadding": 5.4, "padding": 0}}}},
{"data": {"name": "a1"}, "mark": {"type": "line", "strokeWidth": 1.1},
 "encoding": {
  "x": {"field": "t", "type": "quantitative", "axis": {"orient": "bottom", "title": "Time (s)", "values": [0, 0.01, 0.02, 0.03, 0.04, 0.05], "format": ".2f"}},
  "y": {"field": "a", "type": "quantitative", "axis": {"orient": "left", "title": "Acceleration (m/s²)", "values": [-60, -40, -20, 0, 20, 40, 60, 80], "labelExpr": "replace(datum.label, '−', '-')"}},
  "color": {"datum": "1A", "type": "nominal"}}},
{"data": {"name": "a2"}, "mark": {"type": "line", "strokeWidth": 1.1}, "encoding": {"x": {"field": "t", "type": "quantitative", "axis": null}, "y": {"field": "a", "type": "quantitative", "axis": null}, "color": {"datum": "2A", "type": "nominal"}}},
{"data": {"name": "a3"}, "mark": {"type": "line", "strokeWidth": 1.1}, "encoding": {"x": {"field": "t", "type": "quantitative", "axis": null}, "y": {"field": "a", "type": "quantitative", "axis": null}, "color": {"datum": "3A", "type": "nominal"}}},
{"data": {"name": "a4"}, "mark": {"type": "line", "strokeWidth": 1.1}, "encoding": {"x": {"field": "t", "type": "quantitative", "axis": null}, "y": {"field": "a", "type": "quantitative", "axis": null}, "color": {"datum": "4A", "type": "nominal"}}},
{"data": {"name": "a5"}, "mark": {"type": "line", "strokeWidth": 1.1}, "encoding": {"x": {"field": "t", "type": "quantitative", "axis": null}, "y": {"field": "a", "type": "quantitative", "axis": null}, "color": {"datum": "5A", "type": "nominal"}}}
]
},
{
"width": 450, "height": 365,
"title": {"text": "B", "anchor": "start", "frame": "group", "orient": "top", "offset": 0, "dx": -99, "dy": 22, "font": "Liberation Sans", "fontSize": 24, "fontWeight": "bold", "color": "black"},
"resolve": {"axis": {"x": "independent", "y": "independent"}},
"layer": [
{"data": {"name": "f0"}, "mark": {"type": "line", "strokeWidth": 2.5, "interpolate": "monotone"},
 "encoding": {
  "x": {"field": "f", "type": "quantitative", "scale": {"domain": [425, 525], "nice": false, "zero": false}, "axis": {"orient": "bottom", "values": [435, 445, 455, 465, 475, 485, 495, 505, 515], "labels": false, "domain": false, "tickSize": 3, "title": null}},
  "y": {"field": "v", "type": "quantitative", "scale": {"domain": [0.05, 0.35], "nice": false, "zero": false}, "axis": {"orient": "left", "values": [0.075, 0.125, 0.175, 0.225, 0.275, 0.325], "labels": false, "domain": false, "tickSize": 3, "title": null}},
  "color": {"datum": "0A", "type": "nominal", "scale": {"domain": ["0A", "1A", "2A", "3A", "4A", "5A"], "range": ["#3a3a3a", "#f23838", "#2474e2", "#0a9e5a", "#c073ee", "#dc9a14"]}, "legend": {"orient": "none", "legendX": 375, "legendY": 5.5, "title": null, "symbolType": "M-3.6,0H3.6", "symbolSize": 144, "symbolStrokeWidth": 2.5, "labelFontSize": 17, "labelFont": "Liberation Sans", "labelColor": "black", "labelOffset": 19.5, "rowPadding": 5.4, "padding": 0}}}},
{"data": {"name": "f1"}, "mark": {"type": "line", "strokeWidth": 2.5, "interpolate": "monotone"},
 "encoding": {
  "x": {"field": "f", "type": "quantitative", "axis": {"orient": "bottom", "title": "Frequency (Hz)", "values": [430, 440, 450, 460, 470, 480, 490, 500, 510, 520]}},
  "y": {"field": "v", "type": "quantitative", "axis": {"orient": "left", "title": "Acceleration admittance (m/s²/N)", "values": [0.05, 0.1, 0.15, 0.2, 0.25, 0.3, 0.35], "format": ".2f"}},
  "color": {"datum": "1A", "type": "nominal"}}},
{"data": {"name": "f2"}, "mark": {"type": "line", "strokeWidth": 2.5, "interpolate": "monotone"}, "encoding": {"x": {"field": "f", "type": "quantitative", "axis": null}, "y": {"field": "v", "type": "quantitative", "axis": null}, "color": {"datum": "2A", "type": "nominal"}}},
{"data": {"name": "f3"}, "mark": {"type": "line", "strokeWidth": 2.5, "interpolate": "monotone"}, "encoding": {"x": {"field": "f", "type": "quantitative", "axis": null}, "y": {"field": "v", "type": "quantitative", "axis": null}, "color": {"datum": "3A", "type": "nominal"}}},
{"data": {"name": "f4"}, "mark": {"type": "line", "strokeWidth": 2.5, "interpolate": "monotone"}, "encoding": {"x": {"field": "f", "type": "quantitative", "axis": null}, "y": {"field": "v", "type": "quantitative", "axis": null}, "color": {"datum": "4A", "type": "nominal"}}},
{"data": {"name": "f5"}, "mark": {"type": "line", "strokeWidth": 2.5, "interpolate": "monotone"}, "encoding": {"x": {"field": "f", "type": "quantitative", "axis": null}, "y": {"field": "v", "type": "quantitative", "axis": null}, "color": {"datum": "5A", "type": "nominal"}}}
]
}
],
"config": {
"font": "Liberation Sans",
"view": {"stroke": "black", "strokeWidth": 1.8},
"axis": {"domainColor": "black", "domainWidth": 1.8, "tickColor": "black", "tickWidth": 1.8, "tickSize": 6, "labelColor": "black", "labelFontSize": 16, "labelFont": "Liberation Sans", "titleFont": "Liberation Sans", "titleFontSize": 19, "titleFontWeight": "normal", "titleColor": "black", "grid": false, "labelPadding": 4},
"axisX": {"titlePadding": 8},
"axisY": {"titlePadding": 4}
}
}
